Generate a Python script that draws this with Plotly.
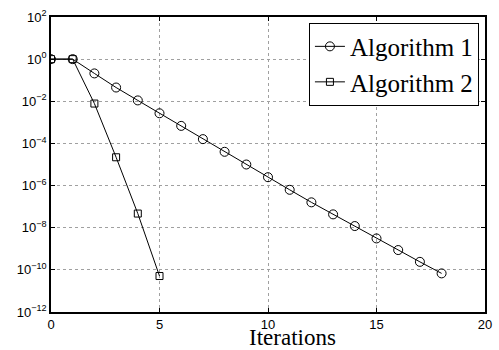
import plotly.graph_objects as go

iters1 = list(range(0, 19))
alg1 = [1.0, 1.0, 0.21, 0.045, 0.011, 2.7e-3, 6.8e-4, 1.6e-4, 4.0e-5, 1.0e-5,
        2.5e-6, 6.3e-7, 1.6e-7, 4.3e-8, 1.2e-8, 3.1e-9, 8.7e-10, 2.4e-10, 6.8e-11]
iters2 = [0, 1, 2, 3, 4, 5]
alg2 = [1.0, 1.0, 7.8e-3, 2.2e-5, 4.7e-8, 5.1e-11]

ytickvals = [1e2, 1e0, 1e-2, 1e-4, 1e-6, 1e-8, 1e-10, 1e-12]
yticktext = ["10<sup>2</sup>", "10<sup>0</sup>", "10<sup>−2</sup>", "10<sup>−4</sup>",
             "10<sup>−6</sup>", "10<sup>−8</sup>", "10<sup>−10</sup>", "10<sup>−12</sup>"]
xtickvals = [0, 5, 10, 15, 20]

SERIF = "Liberation Serif"

fig = go.Figure()
fig.add_trace(go.Scatter(x=iters1, y=alg1, mode="lines+markers", name="Algorithm 1",
                         line=dict(color="black", width=1),
                         marker=dict(symbol="circle-open", size=9, color="black", line=dict(width=1))))
fig.add_trace(go.Scatter(x=iters2, y=alg2, mode="lines+markers", name="Algorithm 2",
                         line=dict(color="black", width=1),
                         marker=dict(symbol="square-open", size=7, color="black", line=dict(width=1))))

axis_common = dict(showline=True, linecolor="black", linewidth=1.5, mirror="ticks",
                   ticks="inside", ticklen=4, tickcolor="black",
                   showgrid=True, gridcolor="#a0a0a0", griddash="dot", gridwidth=1,
                   zeroline=False, tickfont=dict(family="Liberation Sans", size=13, color="black"))

fig.update_xaxes(range=[0, 20], tickvals=xtickvals, **axis_common)
fig.update_yaxes(type="log", range=[-12, 2], tickvals=ytickvals, ticktext=yticktext, **axis_common)

fig.add_annotation(text="Iterations", xref="paper", yref="paper", x=0.556, y=-0.085,
                   xanchor="center", yanchor="middle", showarrow=False,
                   font=dict(family=SERIF, size=23, color="black"))

fig.update_layout(
    width=499, height=350,
    margin=dict(l=51, r=7, t=17, b=38),
    paper_bgcolor="white", plot_bgcolor="white",
    showlegend=True,
    legend=dict(x=0.986, y=0.981, xanchor="right", yanchor="top",
                bgcolor="white", bordercolor="black", borderwidth=1,
                font=dict(family=SERIF, size=25, color="black"),
                tracegroupgap=0),
)

fig.write_html("out.html")
